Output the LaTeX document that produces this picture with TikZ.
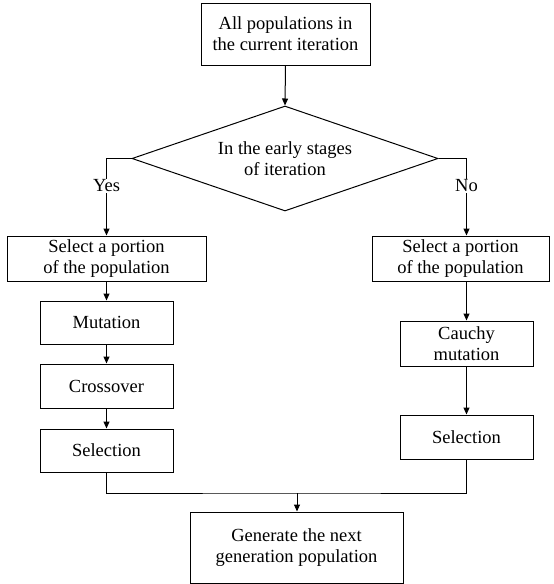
\documentclass[tikz,border=0pt]{standalone}
\usepackage{fontspec}
\setmainfont{Liberation Serif}
\usetikzlibrary{shapes.geometric,arrows.meta}
\begin{document}
\begin{tikzpicture}[x=1pt,y=-1pt,
  font=\fontsize{18.5}{21}\selectfont,
  line width=1pt,
  box/.style={draw, rectangle, align=center, inner sep=0pt},
  arr/.style={-{Triangle[length=7pt,width=6pt]}},
  lab/.style={fill=white, inner sep=1pt}]
\useasboundingbox (0,0) rectangle (554,584);
\node[box, minimum width=169pt, minimum height=62pt] (top) at (285.5,34) {All populations in\\the current iteration};
\node[draw, diamond, aspect=2.91, minimum width=306pt, minimum height=105pt, inner sep=0pt, align=center] (dia) at (285,158.5) {In the early stages\\of iteration};
\node[box, minimum width=199pt, minimum height=45pt] (selA) at (106.5,258.5) {Select a portion\\of the population};
\node[box, minimum width=133pt, minimum height=43pt] (mut) at (106.5,322.5) {Mutation};
\node[box, minimum width=133pt, minimum height=44pt] (cross) at (106.5,386) {Crossover};
\node[box, minimum width=133pt, minimum height=43pt] (selL) at (106.5,450.5) {Selection};
\node[box, minimum width=177pt, minimum height=45pt] (selB) at (460.5,258.5) {Select a portion\\of the population};
\node[box, minimum width=133pt, minimum height=45pt] (cauchy) at (466.5,343.5) {Cauchy\\mutation};
\node[box, minimum width=133pt, minimum height=44pt] (selR) at (466.5,437) {Selection};
\node[box, minimum width=213pt, minimum height=71pt] (bot) at (296.5,547.5) {Generate the next\\generation population};
\coordinate (m) at (297,493);

\draw[arr] (top.south) -- (dia.north);
\draw[arr] (dia.west) -| (selA.north);
\draw[arr] (dia.east) -| (selB.north -| cauchy.north);
\node[lab] (yes) at (106.5,186) {Yes};
\node[lab] (no) at (466.5,186) {No};
\draw[arr] (selA.south) -- (mut.north);
\draw[arr] (mut.south) -- (cross.north);
\draw[arr] (cross.south) -- (selL.north);
\draw[arr] (selB.south -| cauchy.north) -- (cauchy.north);
\draw[arr] (cauchy.south) -- (selR.north);
\draw (selL.south) |- (m) -| (selR.south);
\draw[arr] (m) -- (m |- bot.north);
\end{tikzpicture}
\end{document}
